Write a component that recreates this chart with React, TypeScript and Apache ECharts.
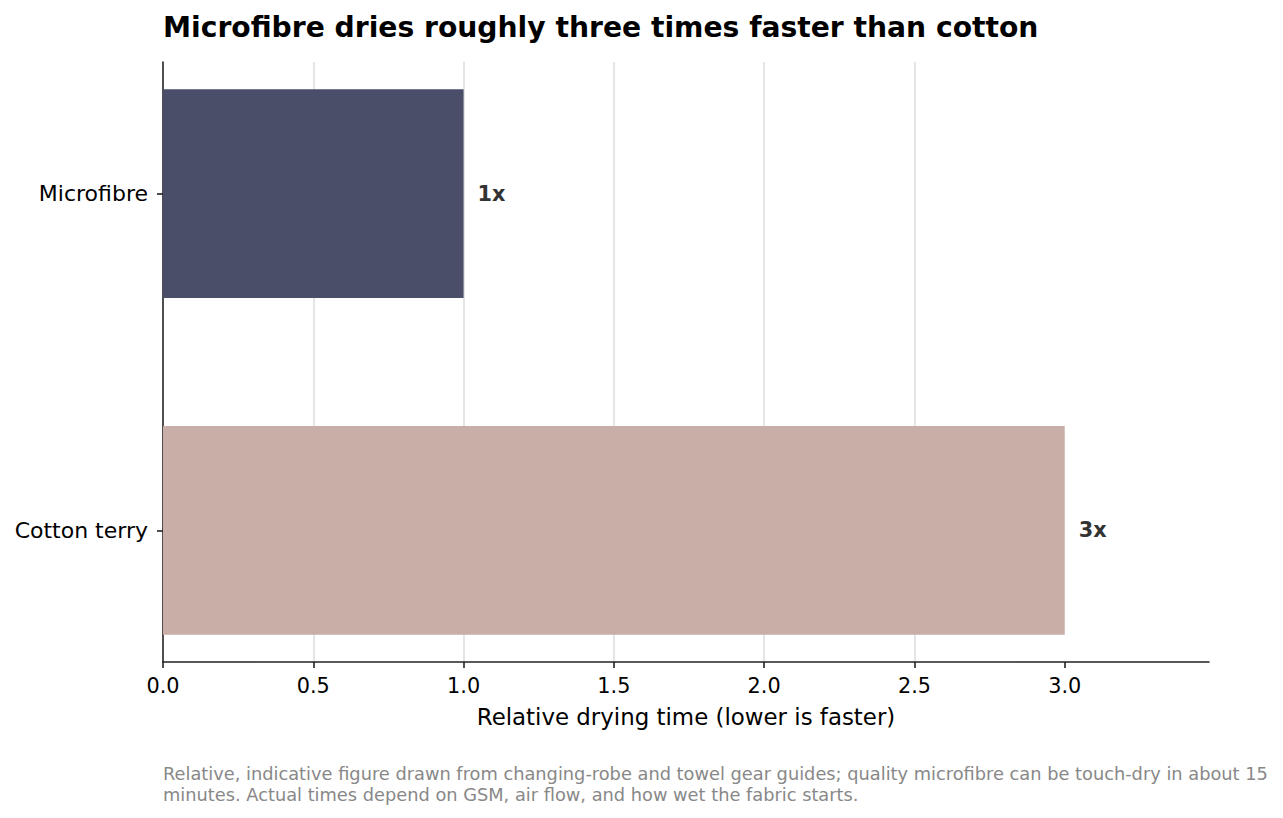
import React, { useEffect, useRef } from "react";
import * as echarts from "echarts";

const CATEGORIES = ["Microfibre", "Cotton terry"];
const VALUES = [1, 3];
const VALUE_LABELS = ["1x", "3x"];
const BAR_COLORS = ["#4a4e69", "#c9ada7"];
const X_TICKS = [0, 0.5, 1, 1.5, 2, 2.5, 3];
const TITLE = "Microfibre dries roughly three times faster than cotton";
const X_NAME = "Relative drying time (lower is faster)";
const FOOTNOTE = [
  "Relative, indicative figure drawn from changing-robe and towel gear guides; quality microfibre can be touch-dry in about 15",
  "minutes. Actual times depend on GSM, air flow, and how wet the fabric starts.",
];

const FONT = "DejaVu Sans";
const BAR_HEIGHT = 0.62;

export default function App() {
  const ref = useRef<HTMLDivElement>(null);

  useEffect(() => {
    if (!ref.current) return;
    const chart = echarts.init(ref.current, undefined, { renderer: "svg" });
    const option: any = {
      animation: false,
      backgroundColor: "#ffffff",
      title: {
        text: TITLE,
        left: 163,
        top: 13,
        padding: 0,
        textStyle: {
          fontFamily: FONT,
          fontSize: 28.2,
          fontWeight: "bold",
          color: "#000000",
        },
      },
      grid: { left: 163, right: 74, top: 62, bottom: 156 },
      xAxis: {
        type: "value",
        min: 0,
        max: 3.48,
        interval: 0.5,
        name: X_NAME,
        nameLocation: "middle",
        nameGap: 43,
        nameTextStyle: { fontFamily: FONT, fontSize: 22.9, color: "#000000" },
        axisLine: {
          show: true,
          onZero: false,
          lineStyle: { color: "#222222", width: 1.6 },
        },
        axisTick: {
          show: true,
          length: 6,
          customValues: X_TICKS,
          lineStyle: { color: "#222222", width: 1.6 },
        },
        axisLabel: {
          customValues: X_TICKS,
          margin: 13,
          fontFamily: FONT,
          fontSize: 20.8,
          color: "#000000",
          formatter: (v: number) => v.toFixed(1),
        },
        splitLine: {
          show: true,
          showMinLine: false,
          showMaxLine: false,
          lineStyle: { color: "#dddddd", width: 1.5 },
        },
      },
      yAxis: {
        type: "value",
        inverse: true,
        min: -0.391,
        max: 1.391,
        axisLine: {
          show: true,
          onZero: false,
          lineStyle: { color: "#222222", width: 1.6 },
        },
        axisTick: {
          show: true,
          length: 6,
          customValues: [0, 1],
          lineStyle: { color: "#222222", width: 1.6 },
        },
        axisLabel: {
          customValues: [0, 1],
          margin: 15,
          fontFamily: FONT,
          fontSize: 22,
          color: "#000000",
          formatter: (v: number) => CATEGORIES[Math.round(v)] ?? "",
        },
        splitLine: { show: false },
      },
      series: [
        {
          type: "custom",
          encode: { x: 0, y: 1 },
          data: VALUES.map((v, i) => [v, i]),
          renderItem: (params: any, api: any) => {
            const val = api.value(0);
            const idx = api.value(1);
            const start = api.coord([0, idx]);
            const end = api.coord([val, idx]);
            const h = api.size([0, BAR_HEIGHT])[1];
            return {
              type: "group",
              children: [
                {
                  type: "rect",
                  shape: {
                    x: start[0],
                    y: start[1] - h / 2,
                    width: end[0] - start[0],
                    height: h,
                  },
                  style: { fill: BAR_COLORS[idx] },
                },
                {
                  type: "text",
                  x: end[0] + 14,
                  y: end[1],
                  style: {
                    text: VALUE_LABELS[idx],
                    fontFamily: FONT,
                    fontSize: 20.8,
                    fontWeight: "bold",
                    fill: "#333333",
                    verticalAlign: "middle",
                    align: "left",
                  },
                },
              ],
            };
          },
        },
      ],
      graphic: FOOTNOTE.map((line, i) => ({
        type: "text",
        left: 163,
        top: 764 + i * 21.7,
        style: {
          text: line,
          fontFamily: FONT,
          fontSize: 17.8,
          fill: "#888888",
        },
      })),
    };
    chart.setOption(option);
    return () => chart.dispose();
  }, []);

  return (
    <div
      ref={ref}
      style={{ position: "absolute", left: 0, top: 0, width: 1283, height: 818 }}
    />
  );
}
